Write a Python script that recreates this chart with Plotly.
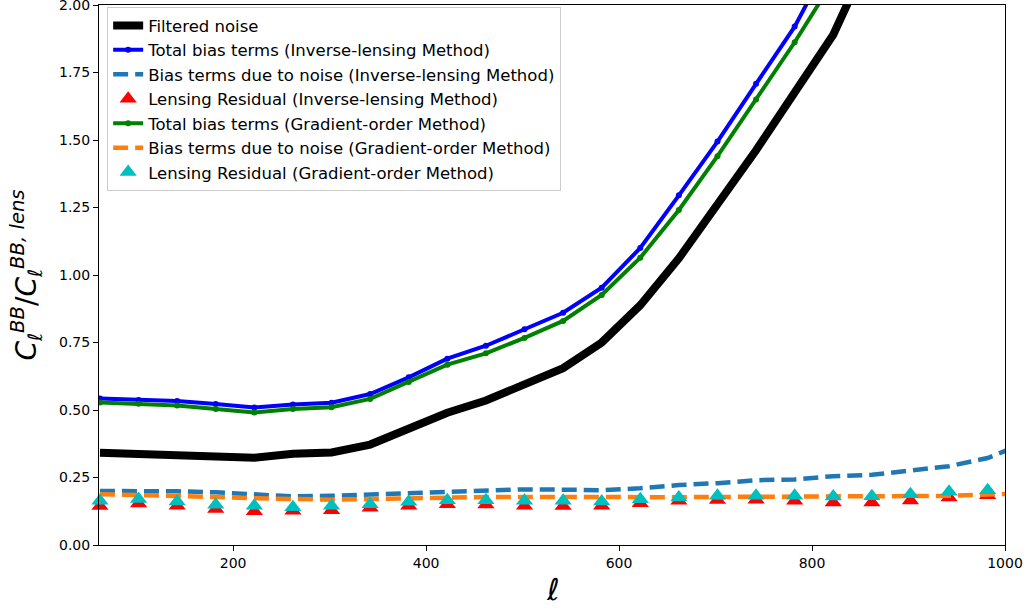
import plotly.graph_objects as go

# multipole bin centres (the last one lies just past the plotted range)
ell = [62, 102, 142, 182, 222, 262, 302, 342, 382, 422, 462, 502,
       542, 582, 622, 662, 702, 742, 782, 822, 862, 902, 942, 982, 1022]

filtered_noise = [0.342, 0.337, 0.336, 0.326, 0.323, 0.338, 0.343, 0.372,
                  0.432, 0.490, 0.535, 0.592, 0.655, 0.750, 0.888, 1.062,
                  1.260, 1.462, 1.676, 1.890, 2.200, 2.550, 2.950, 3.400, 3.900]

total_bias_il = [0.543, 0.537, 0.533, 0.522, 0.509, 0.520, 0.527, 0.559,
                 0.621, 0.690, 0.738, 0.799, 0.860, 0.953, 1.100, 1.295,
                 1.494, 1.708, 1.920, 2.190, 2.450, 2.750, 3.050, 3.400, 3.750]

noise_bias_il = [0.200, 0.200, 0.199, 0.195, 0.186, 0.180, 0.182, 0.187,
                 0.190, 0.198, 0.203, 0.206, 0.205, 0.203, 0.210, 0.222,
                 0.229, 0.240, 0.243, 0.255, 0.260, 0.278, 0.292, 0.322, 0.380]

residual_il = [0.144, 0.154, 0.145, 0.133, 0.125, 0.127, 0.129, 0.138,
               0.145, 0.151, 0.150, 0.145, 0.144, 0.145, 0.155, 0.164,
               0.167, 0.168, 0.164, 0.157, 0.157, 0.165, 0.176, 0.184]

total_bias_go = [0.528, 0.523, 0.517, 0.504, 0.491, 0.504, 0.510, 0.541,
                 0.604, 0.668, 0.710, 0.767, 0.830, 0.926, 1.064, 1.241,
                 1.440, 1.650, 1.862, 2.090, 2.350, 2.650, 2.950, 3.300, 3.650]

noise_bias_go = [0.188, 0.186, 0.184, 0.178, 0.173, 0.169, 0.168, 0.170,
                 0.173, 0.177, 0.178, 0.178, 0.177, 0.175, 0.175, 0.177,
                 0.178, 0.178, 0.178, 0.178, 0.179, 0.180, 0.182, 0.187, 0.192]

residual_go = [0.164, 0.170, 0.161, 0.149, 0.145, 0.140, 0.145, 0.151,
               0.160, 0.166, 0.166, 0.164, 0.164, 0.161, 0.169, 0.176,
               0.182, 0.182, 0.182, 0.180, 0.181, 0.188, 0.197, 0.203]

x_ticks = [200, 400, 600, 800, 1000]
y_ticks = [0.00, 0.25, 0.50, 0.75, 1.00, 1.25, 1.50, 1.75, 2.00]

FONT = "DejaVu Sans"
DASH = "15px,7px"

fig = go.Figure()

fig.add_trace(go.Scatter(
    x=ell, y=filtered_noise, mode="lines", name="Filtered noise",
    line=dict(color="black", width=8), legendgroup="a"))

fig.add_trace(go.Scatter(
    x=ell, y=total_bias_il, mode="lines+markers",
    name="Total bias terms (Inverse-lensing Method)",
    line=dict(color="#0000ff", width=4),
    marker=dict(color="#0000ff", size=6, symbol="circle"), legendgroup="b"))

fig.add_trace(go.Scatter(
    x=ell, y=noise_bias_il, mode="lines",
    name="Bias terms due to noise (Inverse-lensing Method)",
    line=dict(color="#1f77b4", width=4.5, dash=DASH), legendgroup="c"))

fig.add_trace(go.Scatter(
    x=ell[:len(residual_il)], y=residual_il, mode="markers",
    name="Lensing Residual (Inverse-lensing Method)",
    marker=dict(color="#ff0000", size=15, symbol="triangle-up",
                line=dict(width=0)),
    cliponaxis=False, legendgroup="d"))

fig.add_trace(go.Scatter(
    x=ell, y=total_bias_go, mode="lines+markers",
    name="Total bias terms (Gradient-order Method)",
    line=dict(color="#008000", width=4),
    marker=dict(color="#008000", size=6, symbol="circle"), legendgroup="e"))

fig.add_trace(go.Scatter(
    x=ell, y=noise_bias_go, mode="lines",
    name="Bias terms due to noise (Gradient-order Method)",
    line=dict(color="#ff7f0e", width=4.5, dash=DASH), legendgroup="f"))

fig.add_trace(go.Scatter(
    x=ell[:len(residual_go)], y=residual_go, mode="markers",
    name="Lensing Residual (Gradient-order Method)",
    marker=dict(color="#00bfbf", size=15, symbol="triangle-up",
                line=dict(width=0)),
    cliponaxis=False, legendgroup="g"))

axis_common = dict(
    showgrid=False, zeroline=False, showline=True, linecolor="black",
    linewidth=1, mirror=True, ticks="outside", ticklen=5, tickwidth=1,
    tickcolor="black", tickfont=dict(family=FONT, size=14, color="black"),
    automargin=False, ticklabeloverflow="allow",
)

fig.update_xaxes(
    range=[61, 1000], tickvals=x_ticks, ticktext=[str(v) for v in x_ticks],
    **axis_common)

fig.update_yaxes(
    range=[0, 2.0], tickvals=y_ticks, ticktext=[f"{v:.2f}" for v in y_ticks],
    title=dict(text="<i>C</i><sub><i>ℓ</i></sub><sup><i>BB</i></sup>/"
                    "<i>C</i><sub><i>ℓ</i></sub><sup><i>BB, lens</i></sup>",
               font=dict(family=FONT, size=28, color="black"), standoff=14),
    **axis_common)

# x-axis label placed just below the tick labels
fig.add_annotation(
    text="<i>ℓ</i>", xref="paper", yref="paper", x=0.5, y=-0.083,
    xanchor="center", yanchor="middle", showarrow=False,
    font=dict(family=FONT, size=30, color="black"))

fig.update_layout(
    width=1031, height=608,
    margin=dict(l=99, r=26, t=5, b=63),
    paper_bgcolor="white", plot_bgcolor="white",
    font=dict(family=FONT, size=14, color="black"),
    legend=dict(
        x=0.009, y=0.996, xanchor="left", yanchor="top",
        bgcolor="rgba(255,255,255,0.8)", bordercolor="#cccccc", borderwidth=1,
        font=dict(family=FONT, size=16.5, color="black"),
        tracegroupgap=0,
    ),
    showlegend=True,
)

fig.write_html("out.html")
